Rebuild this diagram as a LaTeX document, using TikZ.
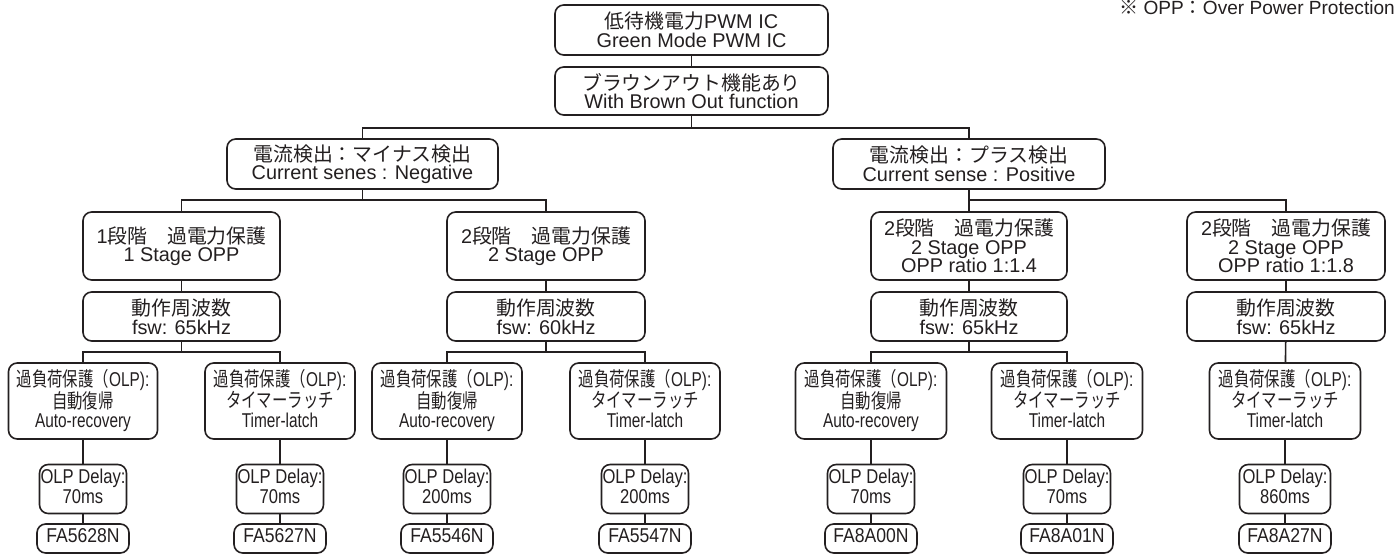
\documentclass[tikz,border=0pt]{standalone}
\usepackage{fontspec}
\usepackage{graphicx}
\setmainfont{Liberation Sans}
\newfontfamily\jp{Noto Sans CJK JP}
\newcommand\J[1]{{\jp #1}}
\newcommand\cond[2]{\scalebox{#1}[1]{\begin{tabular}{@{}c@{}}#2\end{tabular}}}
\definecolor{ink}{HTML}{231F20}
\begin{document}
\begin{tikzpicture}[x=0.75pt,y=-0.75pt,
  box/.style={draw=ink, text=ink, line width=1.2pt, rounded corners=6.5pt, inner sep=0pt, align=center,
              font=\fontsize{14.9}{13.9}\selectfont},
  sbox/.style={box, font=\fontsize{15}{13.2}\selectfont},
  sz/.style 2 args={minimum width=#1*0.75pt, minimum height=#2*0.75pt},
  ln/.style={draw=ink, line width=1.2pt}]
\useasboundingbox (0,0) rectangle (1397,556);

% note
\node[anchor=base west, inner sep=0pt, text=ink, font=\fontsize{14.3}{14}\selectfont] (note) at (1119,15)
  {\J{※} OPP\J{：}Over Power Protection};

% level 0
\node[box, sz={273}{50}] (top) at (691.5,30) {\J{低待機電力}PWM IC\\Green Mode PWM IC};
\node[box, sz={273}{48}] (brown) at (691.5,91) {\J{ブラウンアウト機能あり}\\With Brown Out function};

% level 1
\node[box, sz={271}{50}] (La) at (362.5,164) {\J{電流検出：マイナス検出}\\Current senes : Negative};
\node[box, sz={272}{50}] (Lb) at (969,164) {\J{電流検出：プラス検出}\\Current sense : Positive};

% level 2
\node[box, sz={197}{68}] (Sa) at (181.5,246) {1\J{段階　過電力保護}\\1 Stage OPP};
\node[box, sz={198}{68}] (Sb) at (546,246) {2\J{段階　過電力保護}\\2 Stage OPP};
\node[box, sz={196}{68}] (Sc) at (969,246) {2\J{段階　過電力保護}\\2 Stage OPP\\OPP ratio 1:1.4};
\node[box, sz={198}{68}] (Sd) at (1286,246) {2\J{段階　過電力保護}\\2 Stage OPP\\OPP ratio 1:1.8};

% frequency
\node[box, sz={197}{49}] (Fa) at (181.5,316.5) {\J{動作周波数}\\fsw: 65kHz};
\node[box, sz={198}{49}] (Fb) at (546,316.5) {\J{動作周波数}\\fsw: 60kHz};
\node[box, sz={196}{49}] (Fc) at (969,316.5) {\J{動作周波数}\\fsw: 65kHz};
\node[box, sz={198}{49}] (Fd) at (1286,316.5) {\J{動作周波数}\\fsw: 65kHz};

% OLP
\node[sbox, sz={149}{76}] (O1) at (83,401) {\cond{0.77}{\J{過負荷保護（}OLP):\\\J{自動復帰}\\Auto-recovery}};
\node[sbox, sz={150}{76}] (O2) at (280,401) {\cond{0.77}{\J{過負荷保護（}OLP):\\\J{タイマーラッチ}\\Timer-latch}};
\node[sbox, sz={150}{76}] (O3) at (447,401) {\cond{0.77}{\J{過負荷保護（}OLP):\\\J{自動復帰}\\Auto-recovery}};
\node[sbox, sz={150}{76}] (O4) at (645,401) {\cond{0.77}{\J{過負荷保護（}OLP):\\\J{タイマーラッチ}\\Timer-latch}};
\node[sbox, sz={151}{76}] (O5) at (871,401) {\cond{0.77}{\J{過負荷保護（}OLP):\\\J{自動復帰}\\Auto-recovery}};
\node[sbox, sz={151}{76}] (O6) at (1067,401) {\cond{0.77}{\J{過負荷保護（}OLP):\\\J{タイマーラッチ}\\Timer-latch}};
\node[sbox, sz={151}{76}] (O7) at (1285,401) {\cond{0.77}{\J{過負荷保護（}OLP):\\\J{タイマーラッチ}\\Timer-latch}};

% delay
\node[sbox, sz={87}{49}] (D1) at (83,489) {\cond{0.83}{OLP Delay:\\70ms}};
\node[sbox, sz={87}{49}] (D2) at (280,489) {\cond{0.83}{OLP Delay:\\70ms}};
\node[sbox, sz={87}{49}] (D3) at (447,489) {\cond{0.83}{OLP Delay:\\200ms}};
\node[sbox, sz={87}{49}] (D4) at (645,489) {\cond{0.83}{OLP Delay:\\200ms}};
\node[sbox, sz={87}{49}] (D5) at (871,489) {\cond{0.83}{OLP Delay:\\70ms}};
\node[sbox, sz={87}{49}] (D6) at (1067,489) {\cond{0.83}{OLP Delay:\\70ms}};
\node[sbox, sz={91}{49}] (D7) at (1285,489) {\cond{0.83}{OLP Delay:\\860ms}};

% part numbers
\node[sbox, sz={92}{29}] (P1) at (83,538.5) {\cond{0.88}{FA5628N}};
\node[sbox, sz={92}{29}] (P2) at (280,538.5) {\cond{0.88}{FA5627N}};
\node[sbox, sz={92}{29}] (P3) at (447,538.5) {\cond{0.88}{FA5546N}};
\node[sbox, sz={92}{29}] (P4) at (645,538.5) {\cond{0.88}{FA5547N}};
\node[sbox, sz={92}{29}] (P5) at (871,538.5) {\cond{0.88}{FA8A00N}};
\node[sbox, sz={92}{29}] (P6) at (1067,538.5) {\cond{0.88}{FA8A01N}};
\node[sbox, sz={92}{29}] (P7) at (1285,538.5) {\cond{0.88}{FA8A27N}};

% junctions
\coordinate (j0) at (691.5,128);
\coordinate (ja) at (362.5,200);
\coordinate (jb) at (969,200);
\coordinate (k1) at (181.5,352);
\coordinate (k2) at (546,352);
\coordinate (k3) at (969,352);

% connectors
\draw[ln] (top) -- (brown);
\draw[ln] (brown) -- (j0);
\draw[ln] (La.north) |- (j0) -| (Lb.north);
\draw[ln] (La) -- (ja);
\draw[ln] (Sa.north) |- (ja) -| (Sb.north);
\draw[ln] (Lb) -- (Sc);
\draw[ln] (jb) -| (Sd.north);
\foreach \a/\b in {Sa/Fa,Sb/Fb,Sc/Fc,Sd/Fd,Fd/O7}
  \draw[ln] (\a) -- (\b);
\draw[ln] (Fa) -- (k1);
\draw[ln] (O1.north) |- (k1) -| (O2.north);
\draw[ln] (Fb) -- (k2);
\draw[ln] (O3.north) |- (k2) -| (O4.north);
\draw[ln] (Fc) -- (k3);
\draw[ln] (O5.north) |- (k3) -| (O6.north);
\foreach \i in {1,...,7}{
  \draw[ln] (O\i) -- (D\i);
  \draw[ln] (D\i) -- (P\i);
}
\end{tikzpicture}
\end{document}
